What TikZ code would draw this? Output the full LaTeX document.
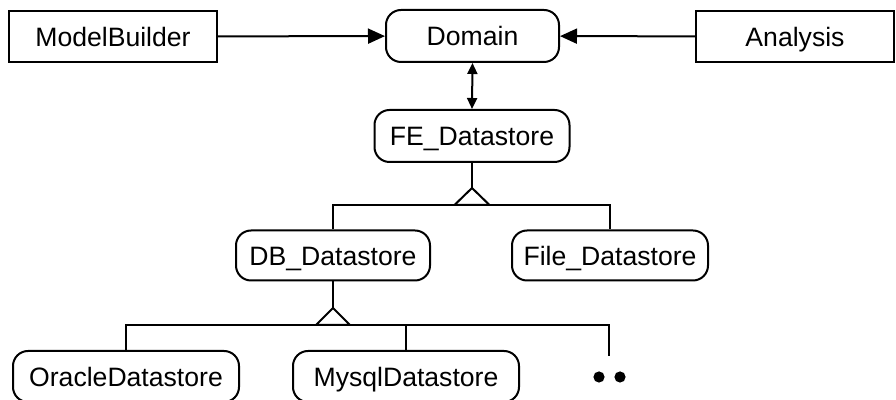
\documentclass[tikz,border=0pt]{standalone}
\usepackage{fontspec}
\setmainfont{Liberation Sans}
\usetikzlibrary{arrows.meta,positioning}

\begin{document}
\begin{tikzpicture}[
  x=0.5pt, y=-0.5pt,
  font=\fontsize{13.3}{15}\selectfont,
  line width=1pt,
  classbox/.style={draw, minimum height=25.5pt, inner sep=0pt, text height=9.6pt, text depth=0pt},
  storebox/.style={draw, rounded corners=7.5pt, minimum height=25pt, inner sep=0pt, text height=9.6pt, text depth=0pt},
  ar/.style={-{Triangle[length=8.5pt,width=7.5pt]}},
  dar/.style={{Triangle[length=5.5pt,width=5pt]}-{Triangle[length=5.5pt,width=5pt]}},
  inh/.style={draw, fill=white, line join=miter}
]
\useasboundingbox (0,0) rectangle (896,400);
\node[classbox, minimum width=104pt] (builder) at (113,36.5) {ModelBuilder};
\node[storebox, minimum width=86.5pt, minimum height=26pt] (domain) at (472.5,36) {Domain};
\node[classbox, minimum width=99pt] (analysis) at (795,36.5) {Analysis};
\draw[ar] (builder) -- (domain);
\draw[ar] (analysis) -- (domain);
\node[storebox, minimum width=97.5pt, minimum height=26pt] (fe) at (472,136) {FE\_Datastore};
\draw[dar] (domain.south) -- (fe.north);
\node[storebox, minimum width=97pt] (db) at (333,255.5) {DB\_Datastore};
\node[storebox, minimum width=98pt] (file) at (610,255.5) {File\_Datastore};
% generalisation FE -> DB, File
\coordinate (fetip) at (472,188);
\coordinate (fejoin) at (472,205);
\draw (fe) -- (fetip);
\draw (db.north) -- (db.north |- fejoin) -- (file.north |- fejoin) -- (file.north);
\draw[inh] (fetip) -- ++(-17.5,17) -- ++(35,0) -- cycle;
\node[storebox, minimum width=113pt, minimum height=25.5pt] (oracle) at (126,376.5) {OracleDatastore};
\node[storebox, minimum width=113pt, minimum height=25.5pt] (mysql) at (406,376.5) {MysqlDatastore};
% generalisation DB -> Oracle, Mysql, ...
\coordinate (dbtip) at (333,308);
\coordinate (dbjoin) at (333,325);
\coordinate (moreend) at (609,356);
\draw (db) -- (dbtip);
\draw (oracle.north) -- (oracle.north |- dbjoin) -- (moreend |- dbjoin) -- (moreend);
\draw (mysql.north) -- (mysql.north |- dbjoin);
\draw[inh] (dbtip) -- ++(-17,17) -- ++(34,0) -- cycle;
\fill (599,377) circle (2.8pt) (620,377) circle (2.8pt);
\end{tikzpicture}
\end{document}
